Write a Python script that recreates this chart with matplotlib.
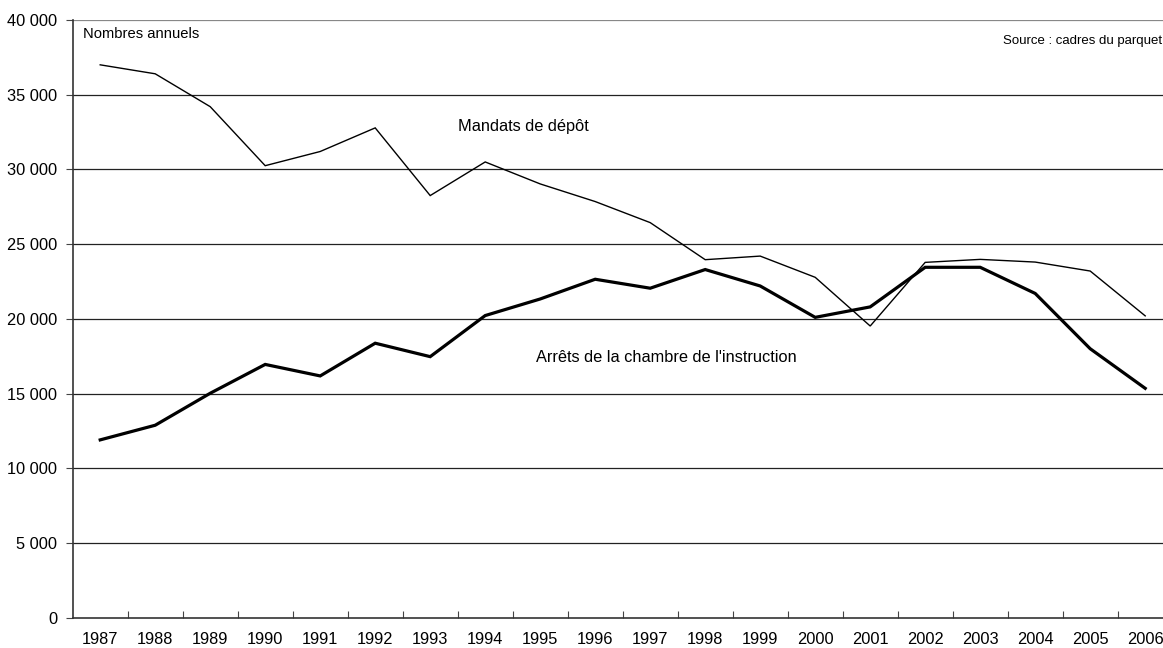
import matplotlib
matplotlib.use("Agg")
import matplotlib.pyplot as plt
from matplotlib.ticker import FixedLocator, FuncFormatter

plt.rcParams['font.family'] = ['Liberation Sans', 'DejaVu Sans']

years = [str(y) for y in range(1987, 2007)]
mandats = [37000, 36400, 34200, 30250, 31200, 32780, 28250, 30500, 29030, 27850,
           26440, 23960, 24200, 22780, 19520, 23780, 23980, 23800, 23200, 20200]
arrets = [11900, 12880, 15020, 16950, 16180, 18370, 17470, 20220, 21330, 22650,
          22050, 23300, 22200, 20100, 20800, 23450, 23450, 21700, 18000, 15350]
y_ticks = [0, 5000, 10000, 15000, 20000, 25000, 30000, 35000, 40000]

fig = plt.figure(figsize=(11.63, 6.48), dpi=100)
ax = fig.add_axes([72.7 / 1163, 30.3 / 648, 1100 / 1163, 597.7 / 648])

x = list(range(len(years)))
ax.plot(x, mandats, color='black', lw=1.0, solid_joinstyle='miter', zorder=3)
ax.plot(x, arrets, color='black', lw=2.3, solid_joinstyle='miter', zorder=3)

ax.set_xlim(-0.5, len(years) - 0.5)
ax.set_ylim(0, 40000)

for v in y_ticks[1:]:
    ax.axhline(v, color='#222222' if v != 40000 else '#888888', lw=0.9, zorder=1)

ax.yaxis.set_major_locator(FixedLocator(y_ticks))
ax.yaxis.set_major_formatter(FuncFormatter(lambda v, p: f"{int(v):,}".replace(",", " ")))
ax.tick_params(axis='y', direction='out', length=5, width=0.8, color='#444444',
               labelsize=11.8, pad=6)

ax.xaxis.set_major_locator(FixedLocator([i + 0.5 for i in x[:-1]]))
ax.xaxis.set_major_formatter(FuncFormatter(lambda v, p: ""))
ax.set_xticks(x, minor=True)
ax.set_xticklabels(years, minor=True)
ax.tick_params(axis='x', which='major', direction='in', length=5, width=0.8, color='#444444')
ax.tick_params(axis='x', which='minor', length=0, labelsize=11.8, pad=10.5)

for s in ['top', 'right']:
    ax.spines[s].set_visible(False)
for s in ['left', 'bottom']:
    ax.spines[s].set_color('#333333')
    ax.spines[s].set_linewidth(1.2)

ax.text(-0.31, 39060, "Nombres annuels", fontsize=10.6, ha='left', va='center')
ax.text(19.3, 38600, "Source : cadres du parquet", fontsize=9.5, ha='right', va='center')
ax.text(6.5, 32850, "Mandats de dépôt", fontsize=11.8, ha='left', va='center')
ax.text(7.92, 17380, "Arrêts de la chambre de l'instruction", fontsize=11.8, ha='left', va='center')

fig.savefig("out.png", dpi=100)
